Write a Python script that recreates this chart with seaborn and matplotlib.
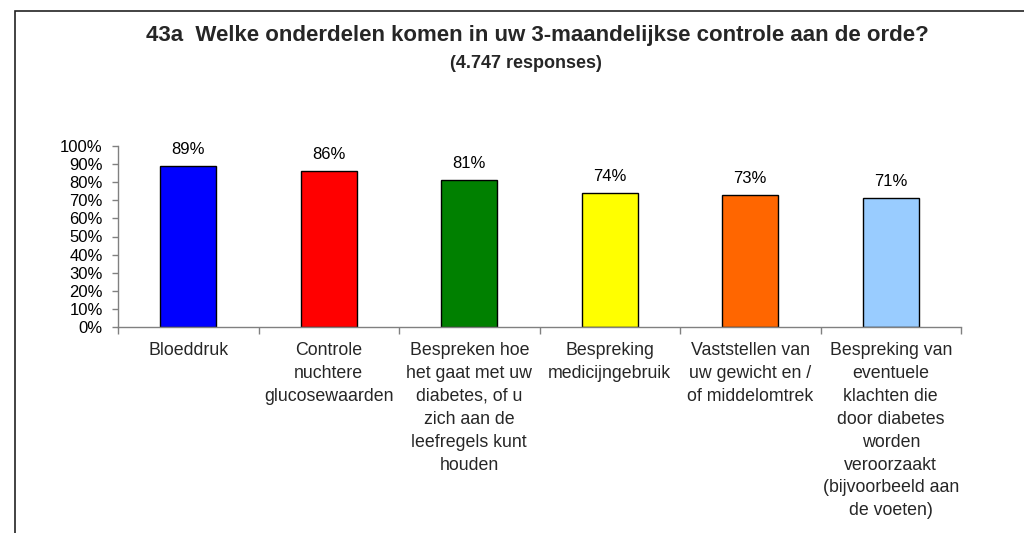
import matplotlib
matplotlib.use("Agg")
import matplotlib.pyplot as plt
import seaborn as sns
import pandas as pd
from matplotlib.patches import Rectangle
from matplotlib.ticker import FuncFormatter, MultipleLocator, FixedLocator

categories = [
    "Bloeddruk",
    "Controle\nnuchtere\nglucosewaarden",
    "Bespreken hoe\nhet gaat met uw\ndiabetes, of u\nzich aan de\nleefregels kunt\nhouden",
    "Bespreking\nmedicijngebruik",
    "Vaststellen van\nuw gewicht en /\nof middelomtrek",
    "Bespreking van\neventuele\nklachten die\ndoor diabetes\nworden\nveroorzaakt\n(bijvoorbeeld aan\nde voeten)",
]
values = [89, 86, 81, 74, 73, 71]
colors = ["#0000FF", "#FF0000", "#008000", "#FFFF00", "#FF6600", "#99CCFF"]
title = "43a  Welke onderdelen komen in uw 3-maandelijkse controle aan de orde?"
subtitle = "(4.747 responses)"

sns.set_theme(style="white")
plt.rcParams["font.family"] = ["Liberation Sans", "DejaVu Sans"]

df = pd.DataFrame({"cat": categories, "val": values})

fig = plt.figure(figsize=(10.24, 5.33), dpi=100)
ax = fig.add_axes([118 / 1024, 1 - 327 / 533, (961 - 118) / 1024, (327 - 146) / 533])

sns.barplot(data=df, x="cat", y="val", hue="cat", palette=colors, legend=False,
            width=0.4, edgecolor="black", linewidth=1.0, ax=ax, saturation=1)

ax.set_ylim(0, 100)
ax.set_xlim(-0.5, len(categories) - 0.5)
ax.yaxis.set_major_locator(MultipleLocator(10))
ax.yaxis.set_major_formatter(FuncFormatter(lambda v, p: f"{int(round(v))}%"))
ax.set_xlabel("")
ax.set_ylabel("")

for s in ["top", "right"]:
    ax.spines[s].set_visible(False)
for s in ["left", "bottom"]:
    ax.spines[s].set_color("#808080")
    ax.spines[s].set_linewidth(1.0)

ax.tick_params(axis="y", which="major", direction="out", length=4, width=1,
               color="#808080", labelsize=12, pad=7, left=True)
ax.tick_params(axis="x", which="major", length=0, labelsize=12.8, pad=11)
ax.xaxis.set_minor_locator(FixedLocator([i - 0.5 for i in range(len(categories) + 1)]))
ax.tick_params(axis="x", which="minor", direction="out", length=5, width=1,
               color="#808080", bottom=True)
for lbl in ax.get_xticklabels():
    lbl.set_linespacing(1.45)
    lbl.set_ha("center")
    lbl.set_va("top")
    lbl.set_multialignment("center")
for lbl in ax.get_yticklabels():
    lbl.set_color("black")

for i, v in enumerate(values):
    ax.annotate(f"{v}%", (i, v), xytext=(0, 6.5), textcoords="offset points",
                ha="center", va="bottom", fontsize=12, color="black")

fig.text(537 / 1024, 1 - 35 / 533, title, ha="center", va="center",
         fontsize=16, fontweight="bold")
fig.text(526 / 1024, 1 - 63 / 533, subtitle, ha="center", va="center",
         fontsize=13, fontweight="bold")

fig.patches.append(Rectangle((15 / 1024, -0.2), 1.2, 1.2 - 11 / 533 + 0.0,
                             transform=fig.transFigure, fill=False,
                             edgecolor="#222222", linewidth=1.2, zorder=0))

fig.savefig("out.png", dpi=100)
